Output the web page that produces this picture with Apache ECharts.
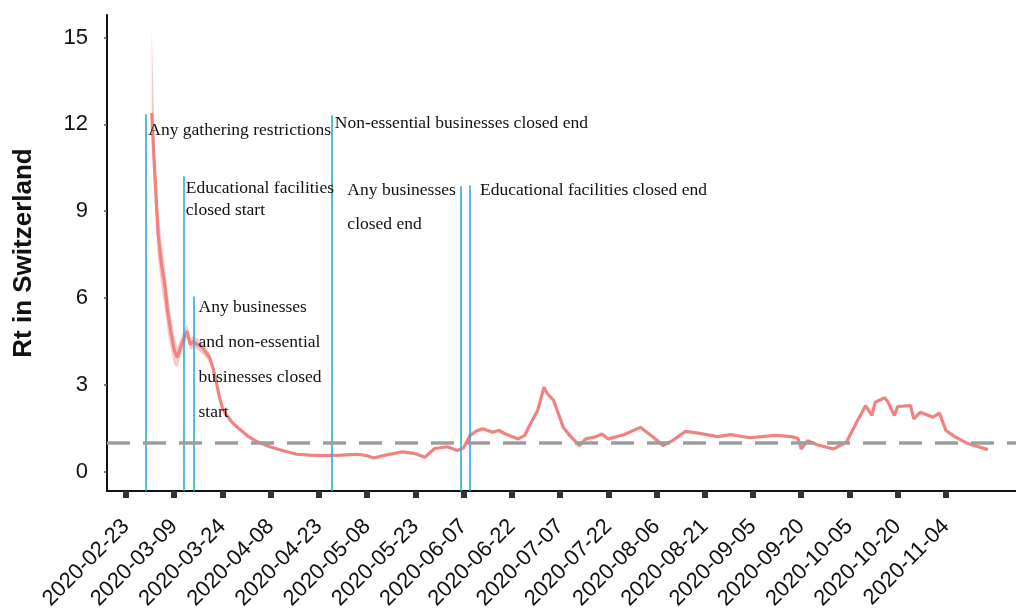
<!DOCTYPE html>
<html>
<head>
<meta charset="utf-8">
<script src="https://cdn.jsdelivr.net/npm/echarts@6/dist/echarts.min.js"></script>
<style>
html,body{margin:0;padding:0;background:#fff;}
#main{width:1016px;height:613px;}
</style>
</head>
<body>
<div id="main"></div>
<script>
// ---- data ----
const rtDates = ['2020-03-02','2020-03-03','2020-03-04','2020-03-05','2020-03-06','2020-03-07','2020-03-08','2020-03-09','2020-03-10','2020-03-11','2020-03-12','2020-03-13','2020-03-14','2020-03-15','2020-03-16','2020-03-17','2020-03-18','2020-03-19','2020-03-20','2020-03-21','2020-03-22','2020-03-23','2020-03-24','2020-03-25','2020-03-27','2020-03-29','2020-04-01','2020-04-04','2020-04-08','2020-04-12','2020-04-16','2020-04-20','2020-04-25','2020-04-30','2020-05-05','2020-05-08','2020-05-10','2020-05-14','2020-05-19','2020-05-23','2020-05-26','2020-05-29','2020-06-02','2020-06-05','2020-06-07','2020-06-09','2020-06-11','2020-06-13','2020-06-16','2020-06-18','2020-06-20','2020-06-24','2020-06-26','2020-06-28','2020-06-30','2020-07-02','2020-07-03','2020-07-05','2020-07-08','2020-07-10','2020-07-13','2020-07-15','2020-07-18','2020-07-20','2020-07-22','2020-07-27','2020-08-01','2020-08-05','2020-08-08','2020-08-11','2020-08-15','2020-08-19','2020-08-25','2020-08-29','2020-09-04','2020-09-12','2020-09-17','2020-09-19','2020-09-20','2020-09-22','2020-09-25','2020-09-30','2020-10-04','2020-10-07','2020-10-10','2020-10-12','2020-10-13','2020-10-16','2020-10-17','2020-10-19','2020-10-20','2020-10-24','2020-10-25','2020-10-27','2020-10-31','2020-11-02','2020-11-04','2020-11-07','2020-11-11','2020-11-17'];
const rtValues = [12.4,10.2,8.2,7.2,6.5,5.5,4.8,4.2,3.95,4.3,4.6,4.85,4.4,4.5,4.4,4.35,4.25,4.1,3.95,3.6,3.15,2.6,2.2,2.0,1.7,1.5,1.22,1.02,0.85,0.72,0.6,0.57,0.55,0.57,0.6,0.55,0.47,0.58,0.68,0.62,0.5,0.8,0.86,0.73,0.82,1.25,1.4,1.48,1.36,1.42,1.3,1.13,1.25,1.7,2.1,2.92,2.7,2.46,1.53,1.25,0.9,1.13,1.2,1.3,1.13,1.28,1.53,1.19,0.9,1.07,1.39,1.33,1.21,1.28,1.17,1.25,1.21,1.15,0.78,1.07,0.93,0.78,1.01,1.65,2.28,1.94,2.4,2.55,2.4,1.94,2.25,2.28,1.82,2.05,1.88,2.02,1.42,1.19,0.96,0.76];

const bandDates = ['2020-03-02','2020-03-03','2020-03-04','2020-03-05','2020-03-06','2020-03-07','2020-03-08','2020-03-09','2020-03-10','2020-03-11','2020-03-12','2020-03-13','2020-03-14','2020-03-15','2020-03-17','2020-03-20','2020-03-22'];
const bandLow  = [11.8,9.3,7.3,6.4,5.7,4.8,4.2,3.7,3.6,4.0,4.3,4.6,4.2,4.3,4.15,3.8,3.05];
const bandHigh = [15.3,11.3,9.2,8.0,7.2,6.2,5.4,4.7,4.3,4.6,4.9,5.1,4.6,4.7,4.55,4.1,3.25];

const interventionDates = ['2020-02-29','2020-03-12','2020-03-15','2020-04-27','2020-06-06','2020-06-09'];
const interventionTops  = [12.35,10.21,6.05,12.31,9.86,9.89];
const interventionTexts = [
  'Any gathering restrictions',
  'Educational facilities\nclosed start',
  'Any businesses\nand non-essential\nbusinesses closed\nstart',
  'Non-essential businesses closed end',
  'Any businesses\nclosed end',
  'Educational facilities closed end'
];
const textLevels = [11.79, 9.79, 5.67, 12.04, 9.73, 9.73];

const xTickLabels = ['2020-02-23','2020-03-09','2020-03-24','2020-04-08','2020-04-23','2020-05-08','2020-05-23','2020-06-07','2020-06-22','2020-07-07','2020-07-22','2020-08-06','2020-08-21','2020-09-05','2020-09-20','2020-10-05','2020-10-20','2020-11-04'];
const yTickValues = [0,3,6,9,12,15];
const thresholdValue = 1;

// ---- helpers ----
const ORIGIN = Date.UTC(2020,1,23);
function toDay(s){const p=s.split('-').map(Number);return (Date.UTC(p[0],p[1]-1,p[2])-ORIGIN)/86400000;}
const xTickDays = xTickLabels.map(toDay);
const labelByDay = {};
xTickLabels.forEach((l,i)=>{labelByDay[xTickDays[i]]=l;});

const X_MIN=-5.9, X_MAX=276.8, Y_MIN=-0.67, Y_MAX=15.78;

const rtData = rtDates.map((d,i)=>[toDay(d), rtValues[i]]);
const bandData = bandDates.map((d,i)=>[toDay(d), bandLow[i], bandHigh[i]]);

const blueLines = interventionDates.map((d,i)=>[{coord:[toDay(d), Y_MIN]},{coord:[toDay(d), interventionTops[i]]}]);

function renderBand(params, api){
  if (params.dataIndex !== 0) return null;
  const pts = [];
  for (let i=0;i<bandData.length;i++) pts.push(api.coord([bandData[i][0], bandData[i][2]]));
  for (let i=bandData.length-1;i>=0;i--) pts.push(api.coord([bandData[i][0], bandData[i][1]]));
  return {type:'polygon', shape:{points:pts}, style:{fill:'#f6bcbc', opacity:0.8}, silent:true};
}

const chart = echarts.init(document.getElementById('main'));
chart.setOption({
  animation:false,
  backgroundColor:'#fff',
  grid:{left:107,right:0,top:15,bottom:122,containLabel:false},
  xAxis:{
    type:'value', min:X_MIN, max:X_MAX,
    splitLine:{show:false},
    axisLine:{show:true,onZero:false,lineStyle:{color:'#111',width:2}},
    axisTick:{show:true,customValues:xTickDays,length:7,lineStyle:{color:'#333',width:6}},
    axisLabel:{show:true,customValues:xTickDays,rotate:45,margin:32,
      fontFamily:'"Liberation Sans", Arial, sans-serif',fontSize:22,color:'#111',
      formatter:function(v){return labelByDay[Math.round(v)]||'';}}
  },
  yAxis:{
    type:'value', min:Y_MIN, max:Y_MAX,
    name:'Rt in Switzerland', nameLocation:'middle', nameGap:70,
    nameTextStyle:{fontFamily:'"Liberation Sans", Arial, sans-serif',fontSize:26,fontWeight:'bold',color:'#111'},
    splitLine:{show:false},
    axisLine:{show:true,onZero:false,lineStyle:{color:'#111',width:2}},
    axisTick:{show:true,customValues:yTickValues,length:3,lineStyle:{color:'#555',width:1.5}},
    axisLabel:{show:true,customValues:yTickValues,margin:19,
      fontFamily:'"Liberation Sans", Arial, sans-serif',fontSize:22,color:'#111'}
  },
  series:[
    {type:'custom',name:'band',data:bandData,renderItem:renderBand,silent:true,z:2,
     encode:{x:0,y:[1,2]}},
    {type:'line',name:'Rt',data:rtData,symbol:'none',smooth:false,
     lineStyle:{color:'#f08282',width:3.2},z:3},
    {type:'line',name:'marks',data:[],symbol:'none',z:5,
     markLine:{silent:true,symbol:['none','none'],label:{show:false},
       lineStyle:{color:'#2ea8e0',width:1.6,type:'solid'},
       data:blueLines}},
    {type:'line',name:'threshold',data:[],symbol:'none',z:6,
     markLine:{silent:true,symbol:['none','none'],label:{show:false},
       lineStyle:{color:'#9d9d9d',width:3.5,type:[23,13]},
       data:[{yAxis:thresholdValue}]}}
  ]
});

// annotation texts anchored to their intervention lines
const textOffsets = [3, 2, 5, 3, -113, 10];
const lineHeights = [22, 22, 35, 22, 34, 22];
const graphics = interventionTexts.map((t,i)=>{
  const p = chart.convertToPixel({gridIndex:0},[toDay(interventionDates[i]), textLevels[i]]);
  return {type:'text', x:p[0]+textOffsets[i], y:p[1]-lineHeights[i]/2, z:10,
    style:{text:t, fill:'#111', font:'17.5px "Liberation Serif", "Times New Roman", serif',
      lineHeight:lineHeights[i], align:'left', verticalAlign:'top'}};
});
chart.setOption({graphic:graphics});
</script>
</body>
</html>
